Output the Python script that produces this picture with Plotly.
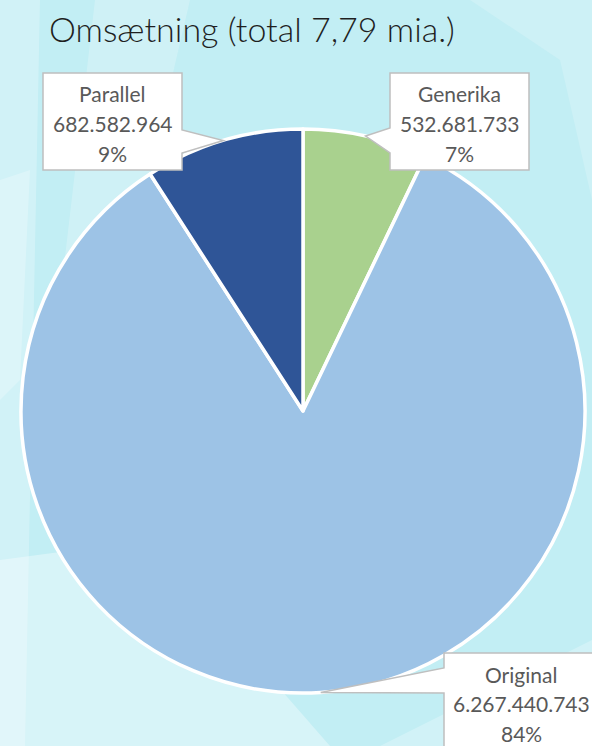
import math
import plotly.graph_objects as go

# ---------------- data ----------------
categories = ["Generika", "Original", "Parallel"]
values = [532681733, 6267440743, 682582964]
colors = ["#A9D18E", "#9DC3E6", "#2F5597"]
title_text = "Omsætning (total 7,79 mia.)"

# ---------------- layout constants (pixels) ----------------
W, H = 592, 746
CX, CY, R = 303, 411, 282

def px(x):
    return x / W

def py(y):
    return 1 - y / H

total = sum(values)

fig = go.Figure()
fig.add_trace(go.Pie(
    labels=categories,
    values=values,
    sort=False,
    direction="clockwise",
    rotation=0,
    textinfo="none",
    hoverinfo="label+value+percent",
    marker=dict(colors=colors, line=dict(color="white", width=3.5)),
    domain=dict(x=[px(CX - R), px(CX + R)], y=[py(CY + R), py(CY - R)]),
    showlegend=False,
))

shapes = []
# background streaks
streaks = [
    ("rgba(255,255,255,0.25)", [(0, 0), (40, 0), (25, 746), (0, 746)]),
    ("rgba(255,255,255,0.22)", [(95, 0), (190, 0), (120, 300), (60, 300)]),
    ("rgba(255,255,255,0.35)", [(0, 560), (150, 540), (330, 746), (0, 746)]),
    ("rgba(255,255,255,0.25)", [(0, 180), (30, 170), (20, 380), (0, 400)]),
    ("rgba(255,255,255,0.18)", [(470, 0), (592, 0), (592, 200), (560, 60)]),
    ("rgba(255,255,255,0.25)", [(380, 746), (592, 640), (592, 700), (450, 746)]),
]
for col, pts in streaks:
    path = "M " + " L ".join(f"{px(x)},{py(y)}" for x, y in pts) + " Z"
    shapes.append(dict(type="path", path=path, xref="paper", yref="paper",
                       fillcolor=col, line=dict(width=0), layer="below"))

# label boxes: (x0, y0, x1, y1, pointer side, pointer base y0, pointer base y1)
boxes = {
    "Generika": (390, 73, 529, 170, "left", 128, 153),
    "Original": (444, 653, 600, 760, "left", 668, 693),
    "Parallel": (43, 73, 182, 170, "right", 130, 153),
}

annotations = []
cum = 0
for cat, v in zip(categories, values):
    mid = (cum + v / 2) / total * 2 * math.pi
    cum += v
    tx = CX + R * math.sin(mid)
    ty = CY - R * math.cos(mid)
    x0, y0, x1, y1, side, b0, b1 = boxes[cat]
    if side == "left":
        pts = [(x0, y0), (x1, y0), (x1, y1), (x0, y1), (x0, b1), (tx, ty), (x0, b0)]
    else:
        pts = [(x0, y0), (x1, y0), (x1, b0), (tx, ty), (x1, b1), (x1, y1), (x0, y1)]
    path = "M " + " L ".join(f"{px(x)},{py(y)}" for x, y in pts) + " Z"
    shapes.append(dict(type="path", path=path, xref="paper", yref="paper",
                       fillcolor="white", line=dict(color="#BFBFBF", width=1.5),
                       layer="above"))
    lines = [cat, f"{v:,}".replace(",", "."), f"{round(v / total * 100)}%"]
    cxb = (x0 + min(x1, 598)) / 2
    for i, t in enumerate(lines):
        annotations.append(dict(
            text=t, x=px(cxb), y=py(y0 + 21 + i * 29.5), xref="paper", yref="paper",
            xanchor="center", yanchor="middle", showarrow=False,
            font=dict(family="Lato", size=21, color="#595959"),
        ))

annotations.append(dict(
    text=title_text, x=px(252), y=py(28), xref="paper", yref="paper",
    xanchor="center", yanchor="middle", showarrow=False,
    font=dict(family="Lato", size=34, color="#1F1F1F", weight=300),
))

fig.update_layout(
    width=W, height=H,
    margin=dict(l=0, r=0, t=0, b=0),
    paper_bgcolor="#C2EEF4",
    plot_bgcolor="rgba(0,0,0,0)",
    shapes=shapes,
    annotations=annotations,
)

fig.write_html(
    "out.html",
    config={"displayModeBar": False},
    post_script="document.body.style.margin='0';document.body.style.padding='0';"
                "document.body.style.overflow='hidden';",
)
